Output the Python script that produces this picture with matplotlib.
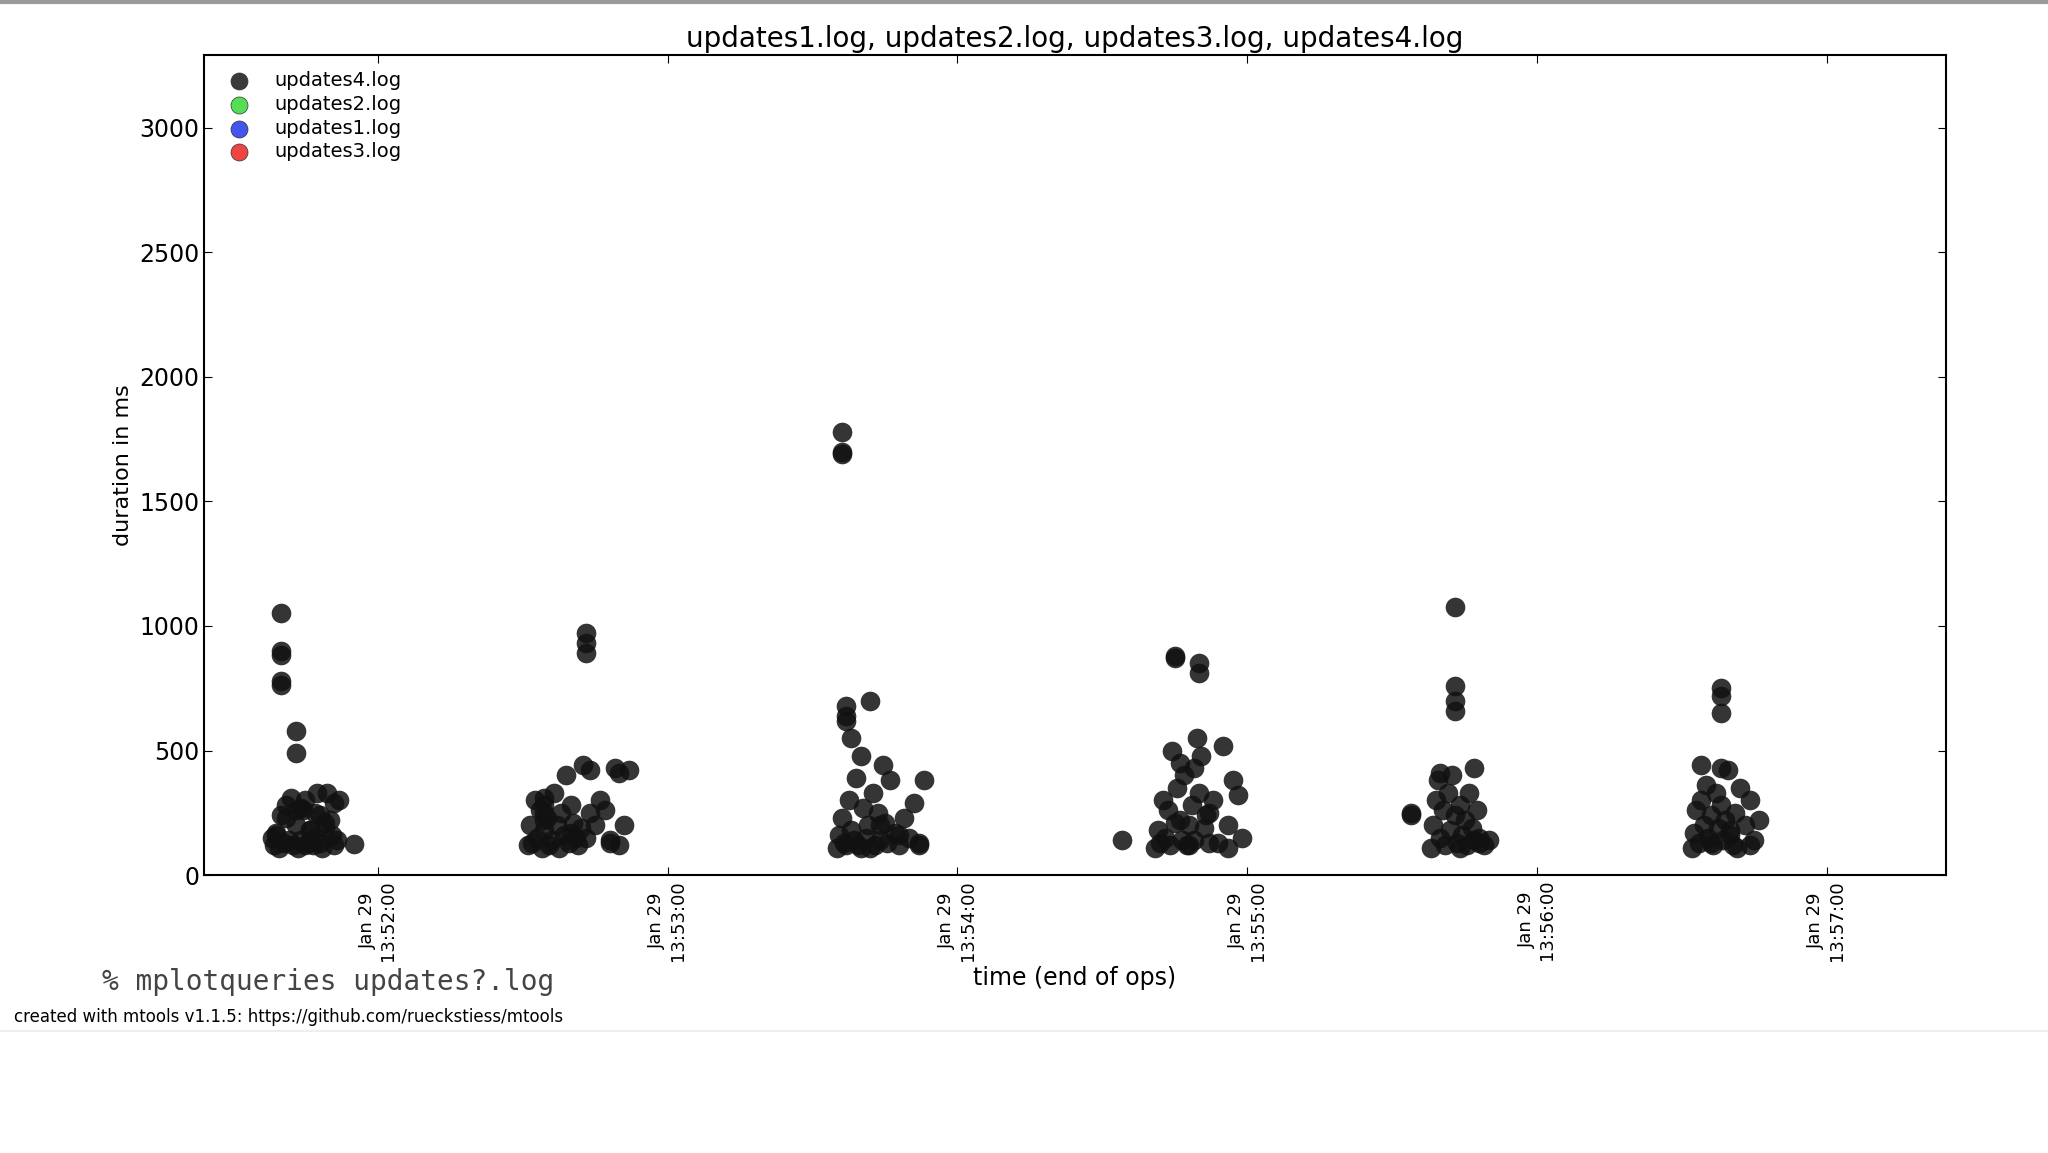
import matplotlib
matplotlib.use("Agg")
import matplotlib.pyplot as plt
import matplotlib.dates as mdates
import datetime as dt

# updates4.log: seconds after 13:51:00 and duration (ms), per burst
c1_sec = [40,40,40,40,40,43,43,55,
          38,38.5,39,39.5,40,40.5,41,41.5,42,42.5,43,43.5,44,44.5,45,45.5,46,46.5,47,47.5,48,48.5,49,49.5,50,50.5,51,51.5,52,39,41,43,45,47,49,51,44,46,48]
c1_dur = [1050,900,885,780,765,580,490,125,
          150,120,160,110,240,130,280,140,310,120,200,110,140,260,300,130,180,120,250,330,130,110,190,330,220,160,290,140,300,170,230,260,120,150,210,120,270,180,240]
c2_sec = [94.5,94.5,94.5,94.5,103,103,103,
          91,91.5,92,92.5,93,93.5,94,94.5,95,95.5,96,96.5,97,97.5,98,98.5,99,99.5,100,100.5,101,101.5,102,102.5,103,104,105,106,107,108,109,110,111,112,100,104,108,110]
c2_dur = [310,280,250,220,970,930,890,
          120,200,130,300,150,260,110,180,230,120,140,330,200,110,250,160,400,130,280,210,150,120,190,440,150,420,200,300,260,140,430,120,200,420,170,250,130,410]
c3_sec = [156,156,156,157,157,157,158,162,
          155,155.5,156,156.5,157,157.5,158,158.5,159,159.5,160,160.5,161,161.5,162,162.5,163,163.5,164,164.5,165,165.5,166,167,168,169,170,171,172,173,160,164,168,172]
c3_dur = [1780,1700,1690,680,640,620,550,700,
          110,160,230,130,120,300,180,140,390,120,480,270,150,200,110,330,120,250,140,440,210,130,380,170,120,230,150,290,120,380,110,200,160,130]
c4_sec = [214,225,225,226,230,230,229,
          221,221.5,222,222.5,223,223.5,224,224.5,225,225.5,226,226.5,227,227.5,228,228.5,229,229.5,230,230.5,231,231.5,232,233,234,235,236,237,238,239,228,232,236]
c4_dur = [140,880,870,450,850,810,430,
          110,180,130,300,150,260,120,500,210,350,220,140,400,120,200,280,140,550,330,480,190,240,130,300,130,520,200,380,320,150,120,250,110]
c5_sec = [274,274,283,283,283,283,287,
          278,278.5,279,279.5,280,280.5,281,281.5,282,282.5,283,283.5,284,284.5,285,285.5,286,286.5,287,287.5,288,289,290,280,284,288]
c5_dur = [250,240,1075,760,700,660,430,
          110,200,300,380,150,260,120,330,180,400,240,130,280,160,220,120,330,190,140,260,150,120,140,410,110,130]
c6_sec = [338,338,338,334,338,
          332,332.5,333,333.5,334,334.5,335,335.5,336,336.5,337,337.5,338,338.5,339,339.5,340,340.5,341,341.5,342,343,344,345,346,336,340,344]
c6_dur = [750,720,650,440,430,
          110,170,260,130,300,200,360,150,240,120,330,190,280,140,220,420,160,120,250,110,350,200,300,140,220,130,180,120]

labels = ["updates4.log", "updates2.log", "updates1.log", "updates3.log"]
colors = ["#3a3a3a", "#55dd55", "#4455ee", "#ee4444"]

sec4 = c1_sec + c2_sec + c3_sec + c4_sec + c5_sec + c6_sec
dur4 = c1_dur + c2_dur + c3_dur + c4_dur + c5_dur + c6_dur
n = min(len(sec4), len(dur4))
base = dt.datetime(2014, 1, 29, 13, 51, 0)
times = [base + dt.timedelta(seconds=s) for s in sec4[:n]]

fig = plt.figure(figsize=(20.48, 11.53), dpi=100)
ax = fig.add_axes([0.0996, 0.241, 0.8504, 0.711])
ax.scatter(times, dur4[:n], s=200, color="#111111", alpha=0.85, linewidths=0, zorder=3)
for lab, c in zip(labels, colors):
    ax.scatter([], [], s=150, color=c, label=lab, edgecolors="#333333", linewidths=0.5)
ax.set_xlim(base + dt.timedelta(seconds=24), base + dt.timedelta(seconds=384.6))
ax.set_ylim(0, 3290)
ax.set_yticks([0, 500, 1000, 1500, 2000, 2500, 3000])
ax.xaxis.set_major_locator(mdates.MinuteLocator())
ax.xaxis.set_major_formatter(mdates.DateFormatter("%b %d\n%H:%M:%S"))
ax.tick_params(axis="x", rotation=90, labelsize=13)
ax.tick_params(axis="y", labelsize=17)
ax.tick_params(direction="in", top=True, right=True, length=6)
for sp in ax.spines.values():
    sp.set_linewidth(1.5)
ax.set_title("updates1.log, updates2.log, updates3.log, updates4.log", fontsize=20, pad=6)
ax.set_ylabel("duration in ms", fontsize=16, labelpad=4)
ax.set_xlabel("time (end of ops)", fontsize=17, labelpad=4)
ax.legend(loc="upper left", frameon=False, fontsize=14, handletextpad=0.8,
          labelspacing=0.25, borderaxespad=0.4)
fig.text(0.05, 0.141, "% mplotqueries updates?.log", family="DejaVu Sans Mono", fontsize=20, color="#444444")
fig.text(0.007, 0.114, "created with mtools v1.1.5: https://github.com/rueckstiess/mtools", fontsize=12)
fig.add_artist(plt.Line2D([0, 1], [0.998, 0.998], color="#999999", lw=3, transform=fig.transFigure))
fig.add_artist(plt.Line2D([0, 1], [0.106, 0.106], color="#eeeeee", lw=1.5, transform=fig.transFigure))
fig.savefig("out.png", dpi=100)
